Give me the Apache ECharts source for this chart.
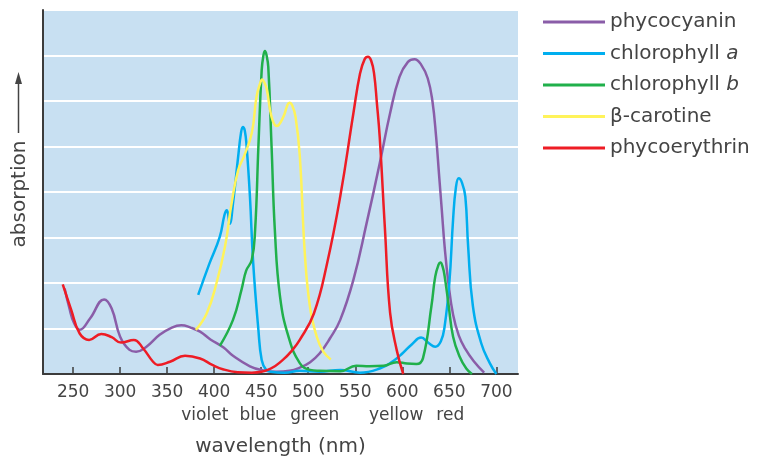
<!DOCTYPE html>
<html>
<head>
<meta charset="utf-8">
<title>absorption spectra</title>
<script src="https://cdn.jsdelivr.net/npm/echarts@6.0.0/dist/echarts.min.js"></script>
<style>
  html, body { margin: 0; padding: 0; background: #fff; }
  #chart { width: 764px; height: 458px; }
</style>
</head>
<body>
<div id="chart"></div>
<script>
// wavelength (nm), relative absorption
var phycocyanin = [[241,1.88],[246,1.45],[251,1.12],[257,0.97],[268,1.22],[283,1.64],[291,1.44],[300,0.82],[310,0.53],[317,0.49],[328,0.6],[342,0.86],[355,1.02],[365,1.07],[375,1.02],[385,0.93],[396,0.76],[410,0.58],[420,0.4],[438,0.17],[452,0.08],[466,0.05],[480,0.07],[491,0.14],[502,0.26],[512,0.45],[523,0.78],[534,1.19],[548,2.07],[562,3.31],[576,4.63],[587,5.73],[597,6.53],[606,6.86],[613,6.92],[620,6.8],[627,6.5],[632,6.0],[636,5.2],[639,4.4],[642,3.6],[645,2.8],[649,2.0],[654,1.3],[660,0.85],[667,0.55],[676,0.28],[687,0.03]];
var chlorophyllA = [[383,1.74],[395,2.43],[406,3.02],[411,3.5],[413.5,3.6],[416.5,3.3],[420,3.75],[425.5,4.78],[428.5,5.3],[430.5,5.43],[432.5,5.35],[434.5,5.0],[438,3.9],[441.5,2.43],[447,0.97],[450.5,0.31],[455,0.1],[460,0.05],[475,0.03],[491,0.07],[512,0.05],[534,0.09],[555,0.03],[576,0.12],[590,0.28],[600,0.45],[610,0.65],[620,0.8],[628,0.68],[635,0.6],[641,0.72],[645,1.05],[650,2.0],[654,3.4],[657,4.1],[660,4.3],[663.5,4.2],[667,3.9],[670,2.8],[675,1.5],[684,0.67],[693,0.24],[700,0]];
var chlorophyllB = [[406,0.62],[420,1.19],[429,1.85],[434,2.27],[440,2.51],[443.5,3.16],[447,5.0],[450.5,6.68],[452.5,7.02],[454,7.1],[455.5,7.02],[457.5,6.75],[461,5.0],[464.5,3.16],[470,1.7],[479,0.82],[491,0.24],[502,0.09],[512,0.07],[534,0.06],[551,0.18],[565,0.17],[580,0.18],[594,0.26],[605,0.23],[615,0.22],[622,0.35],[631,1.5],[635,2.14],[638.5,2.4],[640.5,2.45],[643,2.35],[645,2.15],[649,1.55],[654,0.82],[661,0.38],[668,0.12],[674,0]];
var betaCarotene = [[380.5,0.97],[392,1.33],[402.5,2.0],[411.5,2.8],[418.5,3.75],[425.5,4.48],[432,4.8],[440,5.3],[445,6.09],[449,6.4],[451,6.47],[453,6.42],[456,6.25],[461,5.65],[466.5,5.45],[473.5,5.65],[478,5.92],[480,5.96],[483,5.9],[486.5,5.65],[491,4.8],[496.5,2.6],[502,1.45],[509,0.82],[516,0.49],[524,0.32]];
var phycoerythrin = [[239,1.97],[248,1.41],[257,0.89],[267,0.75],[280,0.88],[291,0.81],[301,0.69],[314.5,0.75],[324.5,0.56],[335,0.27],[340,0.2],[353,0.27],[369,0.4],[385,0.34],[398,0.2],[410,0.1],[425,0.04],[440,0.03],[460,0.12],[473,0.31],[482,0.5],[491,0.75],[506,1.33],[520,2.43],[534,3.9],[548,5.73],[555,6.6],[560,6.92],[563.5,6.97],[567,6.88],[570,6.6],[573,5.95],[576,5.2],[581.5,3.2],[587,1.35],[594,0.53],[601,0]];

var tickValues = [250, 300, 350, 400, 450, 500, 550, 600, 650, 700];
var colourNames = ['violet', 'blue', 'green', 'yellow', 'red'];
var colourPos = [390, 446.5, 507, 593.5, 651];

var font = 'DejaVu Sans';
var txt = '#444444';

var chart = echarts.init(document.getElementById('chart'));

function line(name, data, color) {
  return {
    name: name,
    type: 'line',
    data: data,
    smooth: 0.45,
    symbol: 'none',
    lineStyle: { color: color, width: 2.5 },
    itemStyle: { color: color },
    emphasis: { disabled: true },
    z: 3
  };
}

chart.setOption({
  animation: false,
  grid: {
    left: 43, right: 246, top: 10, bottom: 84,
    outerBoundsMode: 'none',
    show: true, backgroundColor: '#c8e0f2', borderWidth: 0
  },
  legend: {
    orient: 'vertical',
    left: 538, top: 6,
    icon: 'rect',
    itemWidth: 62, itemHeight: 3, itemGap: 9.5,
    data: ['phycocyanin', 'chlorophyll a', 'chlorophyll b', 'β-carotine', 'phycoerythrin'],
    formatter: function (n) {
      if (n === 'chlorophyll a') return 'chlorophyll {i|a}';
      if (n === 'chlorophyll b') return 'chlorophyll {i|b}';
      return n;
    },
    textStyle: {
      fontFamily: font, fontSize: 20, color: txt, lineHeight: 22,
      rich: { i: { fontFamily: font, fontSize: 20, color: txt, fontStyle: 'italic' } }
    }
  },
  xAxis: [{
    type: 'value',
    min: 218, max: 723,
    name: 'wavelength (nm)',
    nameLocation: 'middle',
    nameGap: 63,
    nameTextStyle: { fontFamily: font, fontSize: 20, color: txt },
    axisLine: { show: true, lineStyle: { color: '#3c3c3c', width: 2 } },
    axisTick: { show: true, inside: true, length: 7, customValues: tickValues, lineStyle: { color: '#3c3c3c', width: 1.5 } },
    axisLabel: { customValues: tickValues, margin: 10, fontFamily: font, fontSize: 17, color: txt },
    splitLine: { show: false }
  }, {
    type: 'value',
    position: 'bottom',
    min: 218, max: 723,
    offset: 23,
    axisLine: { show: false },
    axisTick: { show: false },
    axisLabel: {
      customValues: colourPos, margin: 10, fontFamily: font, fontSize: 17, color: txt,
      formatter: function (v) { return colourNames[colourPos.indexOf(v)]; }
    },
    splitLine: { show: false }
  }],
  yAxis: {
    type: 'value',
    min: 0, max: 8, interval: 1,
    axisLine: { show: true, lineStyle: { color: '#3c3c3c', width: 2 } },
    axisTick: { show: false },
    axisLabel: { show: false },
    splitLine: { show: true, lineStyle: { color: '#ffffff', width: 2 } }
  },
  graphic: [
    {
      type: 'text', x: 20, y: 194, rotation: Math.PI / 2,
      style: { text: 'absorption', fontFamily: font, fontSize: 20, fill: txt, align: 'center', verticalAlign: 'middle' }
    },
    { type: 'line', shape: { x1: 18.5, y1: 133, x2: 18.5, y2: 82 }, style: { stroke: txt, lineWidth: 1.5 } },
    { type: 'polygon', shape: { points: [[18.5, 72], [15, 84], [22, 84]] }, style: { fill: txt } }
  ],
  series: [
    line('phycocyanin', phycocyanin, '#8a5da8'),
    line('chlorophyll a', chlorophyllA, '#00aeef'),
    line('chlorophyll b', chlorophyllB, '#20b04b'),
    line('β-carotine', betaCarotene, '#fff35a'),
    line('phycoerythrin', phycoerythrin, '#ee1c25')
  ]
});
</script>
</body>
</html>
